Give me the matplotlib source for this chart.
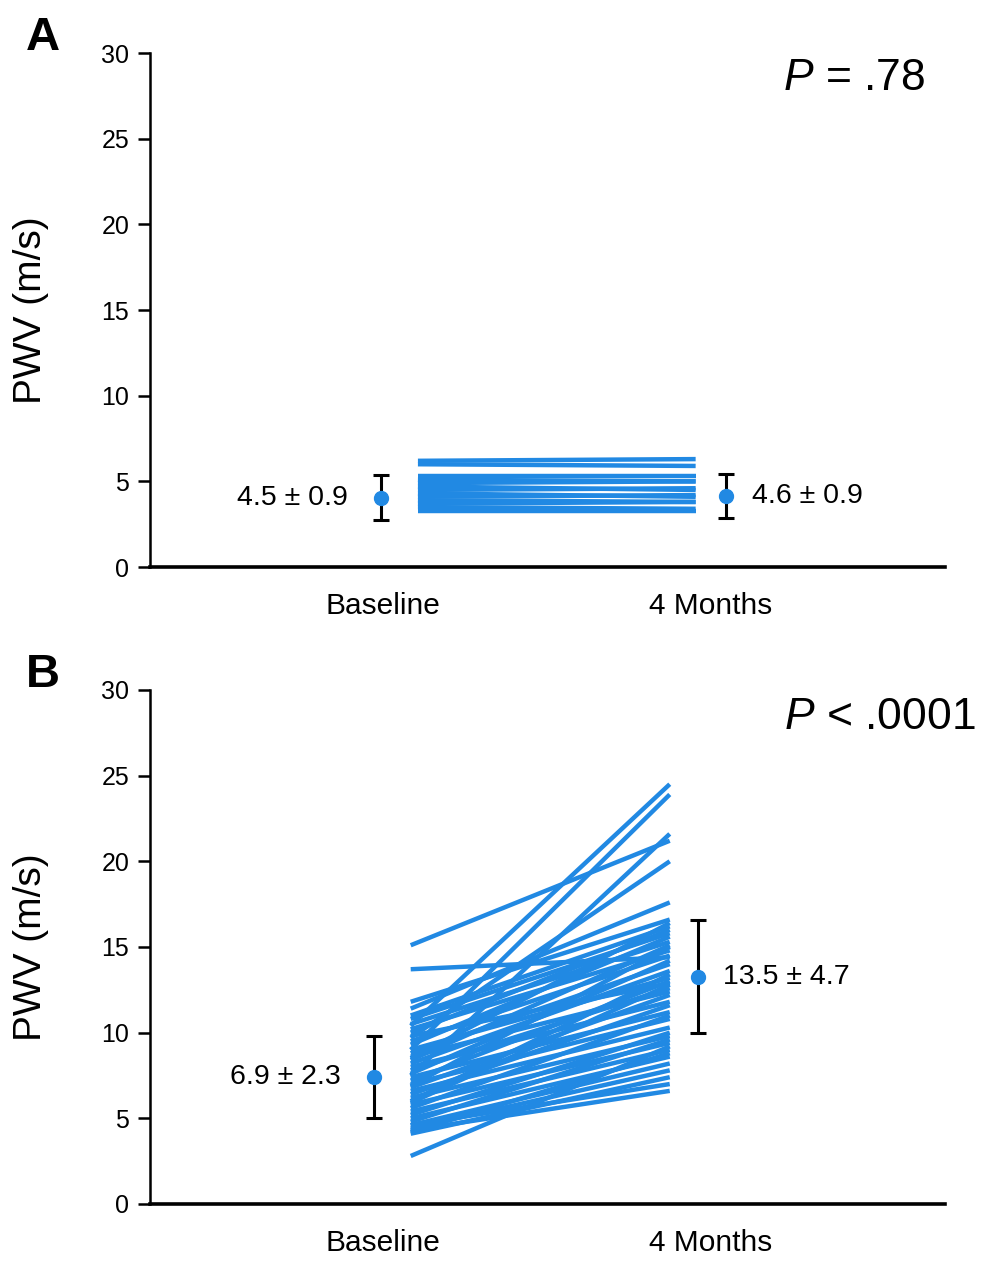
import matplotlib
matplotlib.use("Agg")
import matplotlib.pyplot as plt

plt.rcParams['font.family'] = ['Liberation Sans', 'DejaVu Sans']
plt.rcParams['mathtext.fontset'] = 'custom'
plt.rcParams['mathtext.rm'] = 'Liberation Sans'
plt.rcParams['mathtext.it'] = 'Liberation Sans:italic'

BLUE = '#2189E3'

# group labels
groups = ['Baseline', '4 Months']

# panel A: individual PWV (m/s), baseline -> 4 months
a_base = [6.2, 6.0, 5.3, 5.1, 4.9, 4.7, 4.5, 4.3, 4.1, 3.9, 3.7, 3.5, 3.3]
a_4mo = [6.3, 5.9, 5.3, 5.0, 5.0, 4.5, 4.6, 4.1, 4.2, 3.8, 3.8, 3.4, 3.3]
a_mean = [4.05, 4.15]
a_err = [1.3, 1.3]
a_labels = ['4.5 ± 0.9', '4.6 ± 0.9']
a_p = '$\\mathit{P}$ = .78'

# panel B: individual PWV (m/s), baseline -> 4 months
b_base = [15.1, 13.7, 10.4, 9.0, 7.5, 9.7, 11.4, 11.8, 11.0, 10.8,
          10.5, 10.2, 10.0, 9.8, 9.5, 9.3, 9.0, 8.8, 8.6, 8.4,
          8.2, 8.0, 7.8, 7.6, 7.4, 7.2, 7.0, 6.8, 6.6, 6.4,
          6.2, 6.0, 5.8, 5.6, 5.4, 5.2, 5.0, 4.8, 4.6, 4.4,
          4.2, 4.1, 4.6, 4.3, 2.8, 5.9, 6.9, 8.5]
b_4mo = [21.2, 14.4, 24.5, 23.9, 21.6, 20.0, 17.6, 16.6, 16.2, 15.8,
         15.3, 14.8, 16.0, 12.9, 14.5, 15.6, 13.2, 14.0, 12.4, 15.1,
         13.6, 11.8, 12.6, 14.2, 11.2, 13.0, 10.8, 12.2, 10.3, 11.6,
         9.8, 13.4, 9.4, 11.0, 9.0, 10.0, 8.6, 9.6, 8.2, 7.8,
         8.8, 7.4, 7.0, 6.6, 9.2, 12.8, 15.0, 16.4]
b_mean = [7.4, 13.25]
b_err = [2.4, 3.3]
b_labels = ['6.9 ± 2.3', '13.5 ± 4.7']
b_p = '$\\mathit{P}$ < .0001'


def draw_panel(ax, base, after, mean, err, labels, ptext,
               line_x, dot_x, lab_x, p_xy):
    for y0, y1 in zip(base, after):
        ax.plot(line_x, [y0, y1], color=BLUE, lw=3.2,
                solid_capstyle='butt', zorder=2)
    for i in range(2):
        ax.errorbar(dot_x[i], mean[i], yerr=err[i], fmt='o', color=BLUE,
                    ms=10, ecolor='black', elinewidth=2.2, capsize=6,
                    capthick=2.2, zorder=3)
    ax.text(lab_x[0], mean[0], labels[0], ha='right', va='center', fontsize=20.5)
    ax.text(lab_x[1], mean[1], labels[1], ha='left', va='center', fontsize=20.5)
    ax.text(p_xy[0], p_xy[1], ptext, ha='right', va='center', fontsize=32,
            transform=ax.transAxes)

    ax.set_xlim(-0.71, 1.715)
    ax.set_ylim(0, 30)
    ax.set_yticks([0, 5, 10, 15, 20, 25, 30])
    ax.set_xticks([0, 1])
    ax.set_xticklabels(groups, fontsize=21.5)
    ax.tick_params(axis='y', labelsize=18, length=9, width=1.8,
                   direction='out', pad=6)
    ax.tick_params(axis='x', length=0, pad=18)
    ax.spines['top'].set_visible(False)
    ax.spines['right'].set_visible(False)
    ax.spines['left'].set_linewidth(1.8)
    ax.spines['bottom'].set_linewidth(2.6)
    ax.set_ylabel('PWV (m/s)', fontsize=28)
    ax.yaxis.set_label_coords(-0.127, 0.5)


fig = plt.figure(figsize=(9.97, 12.66), dpi=100)
ax_a = fig.add_axes([0.1505, 0.5521, 0.7975, 0.4060])
ax_b = fig.add_axes([0.1505, 0.0490, 0.7975, 0.4060])

draw_panel(ax_a, a_base, a_4mo, a_mean, a_err, a_labels, a_p,
           [0.107, 0.954], [-0.006, 1.046], [-0.107, 1.125], (0.975, 0.95))
draw_panel(ax_b, b_base, b_4mo, b_mean, b_err, b_labels, b_p,
           [0.085, 0.875], [-0.027, 0.96], [-0.128, 1.037], (1.038, 0.947))

fig.text(0.026, 1 - 50 / 1266, 'A', fontsize=34, fontweight='bold')
fig.text(0.026, 1 - 687 / 1266, 'B', fontsize=34, fontweight='bold')

fig.savefig('out.png', dpi=100)
